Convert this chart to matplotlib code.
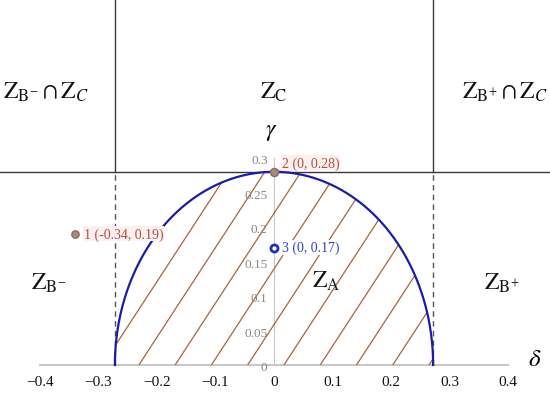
import matplotlib
matplotlib.use("Agg")
import matplotlib.pyplot as plt
import numpy as np
from matplotlib.patches import Polygon

plt.rcParams["font.family"] = ["Liberation Serif", "DejaVu Serif"]
plt.rcParams["mathtext.fontset"] = "stix"

# boundary of Z_A (semi-ellipse) and the points
half_width = 0.272
peak = 0.28
point_labels = ["1 (-0.34, 0.19)", "2 (0, 0.28)", "3 (0, 0.17)"]
point_x = [-0.34, 0.0, 0.0]
point_y = [0.19, 0.28, 0.17]
xticks = [-0.4, -0.3, -0.2, -0.1, 0, 0.1, 0.2, 0.3, 0.4]
yticks = [0, 0.05, 0.1, 0.15, 0.2, 0.25, 0.3]

fig = plt.figure(figsize=(5.5, 4.06), dpi=100)
ax = fig.add_axes([0, 0, 1, 1])
ax.set_xlim(-0.4684, 0.4718)
ax.set_ylim(-0.058, 0.5304)
ax.axis("off")

# axes lines
ax.plot([-0.4, 0.4], [0, 0], color="#c8c8c8", lw=1.5, zorder=1)
ax.plot([0, 0], [0, 0.3], color="#c8c8c8", lw=0.8, zorder=1)

# region boundaries
ax.axhline(peak, color="#3a3a3a", lw=1.0, zorder=2)
for sx in (-half_width, half_width):
    ax.plot([sx, sx], [peak, 0.6], color="#3a3a3a", lw=1.0, zorder=2)
    ax.plot([sx, sx], [0, peak], color="#555555", lw=1.0, ls=(0, (4, 3)), zorder=2)

# semi-ellipse
t = np.linspace(0, np.pi, 300)
ex = half_width * np.cos(t)
ey = peak * np.sin(t)
ax.plot(ex, ey, color="#1c1caa", lw=1.6, zorder=4)

# hatching inside Z_A
clip = Polygon(np.column_stack([ex, ey]), closed=True, facecolor="none", edgecolor="none")
ax.add_patch(clip)
slope = 1.3
spacing = 0.062
for x0 in np.arange(0.017 - 10 * spacing, 0.4, spacing):
    ln, = ax.plot([x0, x0 + 0.4 / slope], [0, 0.4], color="#a9643f", lw=0.9, zorder=3)
    ln.set_clip_path(clip)

# tick labels
for v in xticks:
    txt = "\u2212" + f"{abs(v):g}" if v < 0 else f"{v:g}"
    ax.text(v, -0.024, txt, ha="center", va="center", fontsize=11, color="#111111")
for v in yticks:
    ax.text(-0.011, v - 0.003, f"{v:g}", ha="right", va="center", fontsize=9.5, color="#888888")

ax.text(0.445, 0.008, r"$\delta$", fontsize=18, ha="center", va="center")
ax.text(-0.004, 0.338, r"$\gamma$", fontsize=17, ha="center", va="center")

# points
ax.scatter(point_x[0], point_y[0], s=28, color="#a58a7e", edgecolor="#8c6c5c", zorder=6)
ax.scatter(point_x[1], point_y[1], s=34, color="#a58a7e", edgecolor="#8c6c5c", zorder=6)
ax.scatter(point_x[2], point_y[2], s=26, facecolor="white", edgecolor="#1f2fc0", lw=2, zorder=6)
lab_style = dict(fontsize=10, va="center", ha="left", zorder=7)
ax.text(point_x[0] + 0.015, point_y[0], point_labels[0], color="#b05040",
        bbox=dict(facecolor="#fcf0f0", edgecolor="none", pad=0.5), **lab_style)
ax.text(point_x[1] + 0.013, point_y[1] + 0.013, point_labels[1], color="#b05040",
        bbox=dict(facecolor="#fcf0f0", edgecolor="none", pad=0.5), **lab_style)
ax.text(point_x[2] + 0.013, point_y[2], point_labels[2], color="#3344bb",
        bbox=dict(facecolor="white", edgecolor="none", pad=0.5), **lab_style)

# zone labels
zs = dict(fontsize=17, ha="center", va="center", color="#111111")
ax.text(-0.390, 0.396, r"$\mathrm{Z}_{\mathrm{B}^{-}}\cap\mathrm{Z}_{C}$", **zs)
ax.text(0.0, 0.396, r"$\mathrm{Z}_{\mathrm{C}}$", **zs)
ax.text(0.395, 0.396, r"$\mathrm{Z}_{\mathrm{B}^{+}}\cap\mathrm{Z}_{C}$", **zs)
ax.text(-0.385, 0.120, r"$\mathrm{Z}_{\mathrm{B}^{-}}$", **zs)
ax.text(0.390, 0.120, r"$\mathrm{Z}_{\mathrm{B}^{+}}$", **zs)
ax.text(0.090, 0.123, r"$\mathrm{Z}_{\mathrm{A}}$", **zs)

fig.savefig("out.png", dpi=100)
